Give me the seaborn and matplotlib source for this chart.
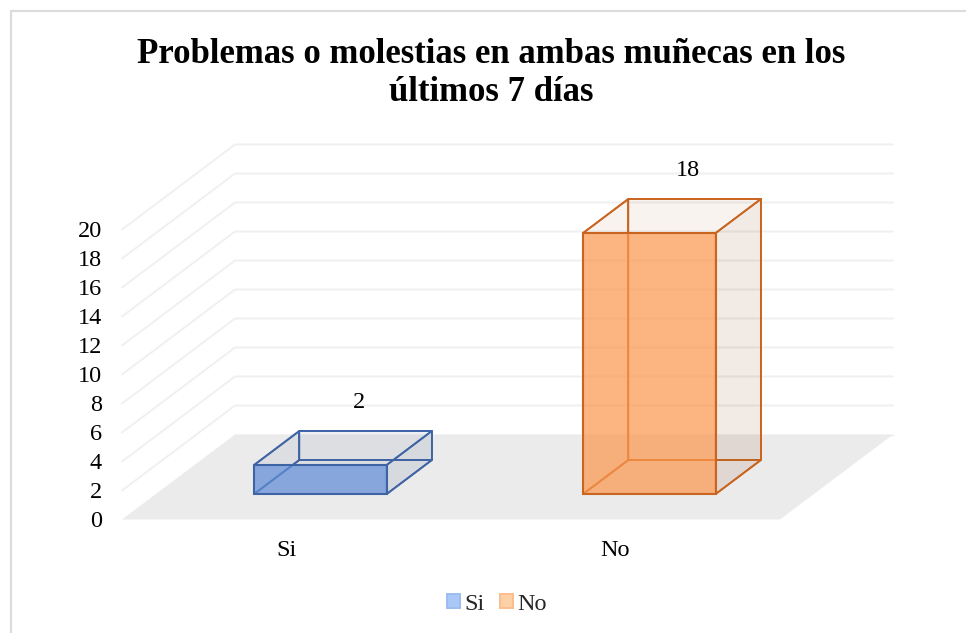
import matplotlib
matplotlib.use("Agg")
import matplotlib.pyplot as plt
from matplotlib.patches import Polygon, Rectangle
from matplotlib.transforms import Affine2D
import pandas as pd
import seaborn as sns

categories = ["Si", "No"]
values = [2, 18]
y_ticks = [0, 2, 4, 6, 8, 10, 12, 14, 16, 18, 20]
title = "Problemas o molestias en ambas muñecas en los\núltimos 7 días"

W, H = 966, 633
sns.set_theme(style="white")
plt.rcParams["font.family"] = ["Liberation Serif", "DejaVu Serif"]

fig = plt.figure(figsize=(W / 100, H / 100), dpi=100, facecolor="white")
# front edge of the floor: x 122-780 px, y=0 at 519.5 px, 14.5 px per unit
ax = fig.add_axes([122 / W, (H - 519.5) / H, 658 / W, 290 / H])

UX = 658 / 2      # px per category
UY = 14.5         # px per value unit
DX = 113 / UX     # full depth in data units
DY = 85 / UY
BAR_FRONT, BAR_BACK = 0.30, 0.70


def proj(x, y, d):
    return (x + d * DX, y + d * DY)


df = pd.DataFrame({"respuesta": categories, "valor": values})
swatch = {"Si": "#A9C8F5", "No": "#FDD0A6"}
swatch_edge = {"Si": "#9CBDF0", "No": "#FBBE8C"}
edge = {"Si": "#3F64A6", "No": "#C9651F"}
front_fill = {"Si": (96 / 255, 142 / 255, 216 / 255, 0.7),
              "No": (252 / 255, 151 / 255, 79 / 255, 0.7)}
rear_fill = {"Si": (0.27, 0.36, 0.55, 0.045), "No": (0.70, 0.42, 0.22, 0.04)}
side_fill = {"Si": (0.27, 0.36, 0.55, 0.08), "No": (0.55, 0.30, 0.15, 0.085)}

sns.barplot(data=df, x="respuesta", y="valor", hue="respuesta", order=categories,
            hue_order=categories, palette=swatch, width=0.403, dodge=False,
            saturation=1, legend=True, ax=ax, zorder=5)

ax.set_xlim(-0.5, 1.5)
ax.set_ylim(0, 20)
ax.set_yticks(y_ticks)
ax.set_xlabel("")
ax.set_ylabel("")
ax.tick_params(axis="y", length=0, pad=14.5, labelsize=17.5, colors="black")
ax.tick_params(axis="x", length=0, pad=15, labelsize=17.5, colors="black")
sns.despine(ax=ax, left=True, bottom=True)
ax.patch.set_alpha(0)
for lab in ax.get_yticklabels():
    lab.set_transform(lab.get_transform() + Affine2D().translate(0, 0.5))

# floor
floor = [proj(-0.5, 0, 0), proj(-0.5, 0, 1), proj(1.5, 0, 1), proj(1.5, 0, 0)]
ax.add_patch(Polygon(floor, closed=True, fc="#EBEBEB", ec="none", clip_on=False, zorder=1))

# walls' gridlines
for v in y_ticks[1:]:
    pts = [proj(-0.5, v, 0), proj(-0.5, v, 1), proj(1.5, v, 1)]
    ax.plot(*zip(*pts), color="#F0F0F0", lw=1.4, clip_on=False, zorder=0.5,
            solid_joinstyle="miter")
edge_pts = [proj(1.5, 0, 1), proj(-0.5, 0, 1)]
ax.plot(*zip(*edge_pts), color="#EBEBEB", lw=1.0, clip_on=False, zorder=1.1)

# 3-D boxes grown from the seaborn bars
bars = [p for p in ax.patches if isinstance(p, Rectangle)]
for bar, cat in zip(bars, categories):
    x0 = bar.get_x()
    x1 = x0 + bar.get_width()
    h = bar.get_height()
    f, b = BAR_FRONT, BAR_BACK
    ec = edge[cat]
    faces = [
        ([proj(x0, 0, b), proj(x1, 0, b), proj(x1, h, b), proj(x0, h, b)], rear_fill[cat], 2),
        ([proj(x0, 0, f), proj(x0, 0, b), proj(x0, h, b), proj(x0, h, f)], rear_fill[cat], 2.1),
        ([proj(x0, 0, f), proj(x1, 0, f), proj(x1, 0, b), proj(x0, 0, b)], rear_fill[cat], 2.2),
        ([proj(x1, 0, f), proj(x1, 0, b), proj(x1, h, b), proj(x1, h, f)], side_fill[cat], 2.3),
        ([proj(x0, h, f), proj(x1, h, f), proj(x1, h, b), proj(x0, h, b)], rear_fill[cat], 2.4),
    ]
    for pts, fc, z in faces:
        ax.add_patch(Polygon(pts, closed=True, fc=fc, ec=ec, lw=1.3, clip_on=False,
                             zorder=z, joinstyle="round"))
    # the seaborn bar itself is the front face
    bar.set_x(proj(x0, 0, f)[0])
    bar.set_y(proj(x0, 0, f)[1])
    bar.set_facecolor(front_fill[cat])
    bar.set_edgecolor(ec)
    bar.set_linewidth(1.5)
    bar.set_clip_on(False)
    bar.set_zorder(5)

# data labels
for i, val in enumerate(values):
    ax.annotate(str(val), (i, val), xytext=(72, 87.5), textcoords="offset pixels",
                ha="center", va="center", fontsize=17.5, color="black",
                annotation_clip=False, zorder=6)

# legend
sns.move_legend(ax, "center", bbox_to_anchor=(497 / W, (H - 604) / H),
                bbox_transform=fig.transFigure, ncol=2, frameon=False, title=None,
                fontsize=17.5, handlelength=0.54, handleheight=0.54,
                handletextpad=0.2, columnspacing=0.6, borderpad=0, borderaxespad=0)
for handle, cat in zip(ax.get_legend().legend_handles, categories):
    handle.set_facecolor(swatch[cat])
    handle.set_edgecolor(swatch_edge[cat])
    handle.set_linewidth(1.4)

# title
fig.text(491 / W, (H - 73.5) / H, title, ha="center", va="center", fontsize=25,
         fontweight="bold", color="black", linespacing=1.17)

# chart frame (left and top edges are inside the crop)
fig.add_artist(Rectangle((11 / W, -0.1), 1.2, (H - 11) / H + 0.1, transform=fig.transFigure,
                         fc="none", ec="#DCDCDC", lw=1.6, clip_on=True))

fig.savefig("out.png", dpi=100)
